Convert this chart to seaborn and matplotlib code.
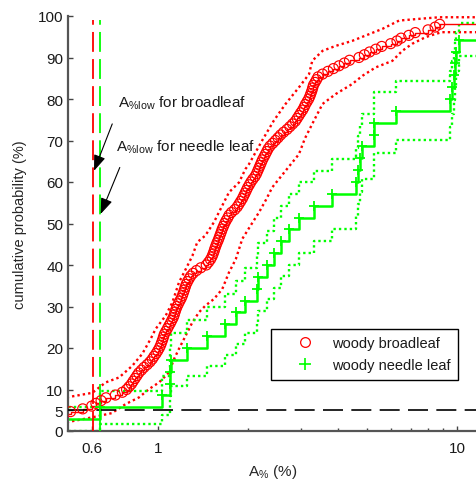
import numpy as np
import matplotlib
matplotlib.use("Agg")
import matplotlib.pyplot as plt
from matplotlib.lines import Line2D
from matplotlib.ticker import NullFormatter
import seaborn as sns

# ---------------- data ----------------
broadleaf = [0.42, 0.44, 0.45, 0.46, 0.47, 0.48,
             0.51, 0.56, 0.60, 0.62, 0.645, 0.67, 0.72, 0.76, 0.785,
             0.80, 0.815, 0.826, 0.838, 0.85, 0.862, 0.88, 0.898, 0.92, 0.94, 0.957,
             0.97, 0.985, 0.998, 1.01, 1.02, 1.028, 1.036, 1.043, 1.05,
             1.062, 1.075, 1.087, 1.10, 1.112, 1.124, 1.133, 1.14, 1.148, 1.158,
             1.17, 1.183, 1.196, 1.207, 1.216, 1.225, 1.233, 1.242, 1.255, 1.27, 1.286,
             1.31, 1.345, 1.39, 1.45, 1.475, 1.498, 1.515, 1.528, 1.54, 1.55, 1.562,
             1.575, 1.59, 1.603, 1.615, 1.628, 1.64, 1.655, 1.67, 1.688, 1.71, 1.728,
             1.76, 1.805, 1.84, 1.865, 1.89, 1.915, 1.935, 1.955, 1.975, 1.995, 2.02,
             2.045, 2.075, 2.11, 2.135, 2.155, 2.175, 2.195, 2.215, 2.235,
             2.26, 2.285, 2.31, 2.335, 2.37, 2.42, 2.47, 2.52, 2.57, 2.63,
             2.70, 2.76, 2.82, 2.88, 2.92, 2.96, 3.0, 3.045, 3.08, 3.11, 3.15, 3.19,
             3.22, 3.245, 3.27, 3.29, 3.31, 3.35, 3.39, 3.43, 3.55, 3.70, 3.86, 4.03,
             4.2, 4.37, 4.7, 4.9, 5.1, 5.35, 5.6, 6.0, 6.3, 6.5, 6.9, 7.25, 8.0,
             8.45, 8.75, 13.0, 14.0, 16.0]

broad_upper_x = [0.495, 0.603, 0.668, 0.741, 0.82, 0.886, 0.945, 0.982, 1.061, 1.117,
                 1.175, 1.238, 1.303, 1.353, 1.44, 1.538, 1.64, 1.727, 1.866, 1.96,
                 2.015, 2.23, 2.44, 2.67, 2.96, 3.2, 3.28, 3.55, 3.93, 4.46, 4.95,
                 5.63, 6.4, 7.43, 8.72, 11.7]
broad_upper_y = [8.1, 9.2, 11.7, 12.9, 15.7, 18.6, 22.2, 24.6, 27.8, 31.0,
                 35.8, 39.0, 42.2, 45.5, 47.1, 50.3, 54.3, 57.5, 59.9, 63.1,
                 64.3, 70.0, 74.8, 78.8, 82.8, 86.0, 89.2, 91.6, 92.8, 94.0, 95.3,
                 96.9, 98.9, 99.3, 99.7, 99.7]
broad_lower_x = [0.495, 0.603, 0.70, 0.78, 0.864, 0.933, 1.008, 1.088, 1.131, 1.175,
                 1.238, 1.303, 1.371, 1.44, 1.538, 1.64, 1.727, 1.82, 1.914, 2.04,
                 2.177, 2.3, 2.41, 2.67, 2.96, 3.1, 3.28, 3.55, 3.93, 4.46, 4.83,
                 5.34, 6.08, 6.56, 7.08, 7.85, 8.5, 8.9, 11.7]
broad_lower_y = [2.1, 3.3, 4.3, 6.5, 8.1, 10.1, 11.7, 14.1, 17.3, 19.8,
                 23.0, 26.2, 28.6, 30.2, 31.8, 34.2, 38.2, 41.4, 46.3, 49.5,
                 52.7, 55.8, 58.7, 62.7, 66.7, 70.5, 74.0, 78.8, 81.2, 83.6, 85.6,
                 87.6, 89.2, 91.6, 93.3, 94.9, 95.7, 96.1, 96.1]

needle = [0.48, 0.638, 1.034, 1.095, 1.10, 1.105, 1.25, 1.46, 1.68, 1.83, 1.96,
          2.14, 2.16, 2.32, 2.44, 2.57, 2.74, 2.96, 3.32, 3.83, 4.58, 4.65, 4.72,
          4.80, 5.26, 5.28, 6.24, 9.46, 9.6, 9.75, 9.85, 9.95, 10.15, 12.5, 14.0]
needle_lower = [0.04, 1.79, 3.84, 6.05, 8.37, 10.77, 13.24, 15.76, 18.33, 20.94,
                23.58, 26.26, 28.98, 31.72, 34.49, 37.29, 40.12, 42.98, 45.87, 48.78,
                51.72, 54.69, 57.69, 60.72, 63.79, 66.90, 70.04, 73.24, 76.49, 79.79,
                83.19, 86.70, 90.37, 94.33, 100.0]
needle_upper = [5.67, 9.64, 13.30, 16.81, 20.20, 23.51, 26.76, 29.96, 33.10, 36.21,
                39.28, 42.31, 45.31, 48.28, 51.22, 54.13, 57.02, 59.88, 62.71, 65.51,
                68.28, 71.03, 73.74, 76.42, 79.07, 81.68, 84.24, 86.76, 89.23, 91.63,
                93.95, 96.16, 98.21, 99.96, 100.0]

low_broad = 0.608      # A%low broadleaf
low_needle = 0.638     # A%low needle leaf
threshold = 5          # 5 % probability level

x_ticks = [0.6, 1, 10]
x_ticklabels = ["0.6", "1", "10"]
x_minor = [2, 3, 4, 5, 6, 7, 8, 9]
y_ticks = [0, 5, 10, 20, 30, 40, 50, 60, 70, 80, 90, 100]

RED = "#ff0000"
GREEN = "#00ff00"

# ---------------- style ----------------
sns.set_style("ticks")
plt.rcParams["font.family"] = ["Liberation Sans", "DejaVu Sans"]
plt.rcParams["mathtext.default"] = "regular"
plt.rcParams["text.color"] = "#1a1a1a"

fig = plt.figure(figsize=(4.76, 4.81), dpi=100)
ax = fig.add_axes([68 / 476, 49 / 481, 409.4 / 476, 415 / 481])
ax.set_xscale("log")

dot = (0, (1, 1.3))

# confidence bounds
sns.lineplot(x=broad_upper_x, y=broad_upper_y, sort=False, estimator=None,
             color=RED, lw=1.7, linestyle=dot, ax=ax)
sns.lineplot(x=broad_lower_x, y=broad_lower_y, sort=False, estimator=None,
             color=RED, lw=1.7, linestyle=dot, ax=ax)
needle_sorted = np.sort(needle)
sns.lineplot(x=needle_sorted, y=needle_lower, sort=False, estimator=None,
             drawstyle="steps-post", color=GREEN, lw=1.7, linestyle=dot, ax=ax)
sns.lineplot(x=needle_sorted, y=needle_upper, sort=False, estimator=None,
             drawstyle="steps-post", color=GREEN, lw=1.7, linestyle=dot, ax=ax)

# empirical CDFs
sns.ecdfplot(x=broadleaf, stat="percent", color=RED, lw=1.0, ax=ax)
sns.ecdfplot(x=needle, stat="percent", color=GREEN, lw=1.8, ax=ax)

bx = np.sort(broadleaf)
bF = 100 * np.arange(1, len(bx) + 1) / len(bx)
sns.scatterplot(x=bx, y=bF, marker="o", s=52, color=RED, facecolors="none",
                edgecolor=RED, linewidth=0.85, ax=ax, zorder=4)
nF = 100 * np.arange(1, len(needle_sorted) + 1) / len(needle_sorted)
sns.scatterplot(x=needle_sorted, y=nF, marker="+", s=60, color=GREEN,
                linewidth=1.3, ax=ax, zorder=4)

# reference lines
ax.axhline(threshold, color="black", lw=1.2, dashes=(12, 5), zorder=3)
ax.vlines(low_broad, 0, 99, color=RED, lw=1.3, linestyles=[(0, (11, 4))], zorder=3)
ax.vlines(low_needle, 0, 99, color=GREEN, lw=1.3, linestyles=[(0, (11, 4))], zorder=3)

# annotations
ax.text(0.735, 78.1, r"A$_{\%low}$ for broadleaf", fontsize=11, va="baseline",
        ha="left", zorder=10)
ax.text(0.724, 67.5, r"A$_{\%low}$ for needle leaf", fontsize=11, va="baseline",
        ha="left", zorder=10)
arrow = dict(arrowstyle="-|>,head_length=0.8,head_width=0.3", color="black",
             lw=0.8, mutation_scale=12, shrinkA=0, shrinkB=0)
ax.annotate("", xy=(0.611, 62.7), xytext=(0.703, 74.0), arrowprops=arrow, zorder=10)
ax.annotate("", xy=(0.643, 52.3), xytext=(0.745, 63.5), arrowprops=arrow, zorder=10)

# axes
ax.set_xlim(0.5, 11.7)
ax.set_ylim(0, 100)
ax.set_xticks(x_ticks)
ax.set_xticklabels(x_ticklabels)
ax.set_xticks(x_minor, minor=True)
ax.xaxis.set_minor_formatter(NullFormatter())
ax.set_yticks(y_ticks)
ax.tick_params(axis="both", which="both", direction="in", colors="#444444",
               labelcolor="#1a1a1a", labelsize=11)
ax.tick_params(axis="both", which="major", length=3.5, width=1)
ax.tick_params(axis="x", which="minor", length=2, width=1)
ax.tick_params(axis="x", which="major", pad=7)
ax.tick_params(axis="y", which="major", pad=3.5)
sns.despine(ax=ax, top=True, right=True)
for s in ("left", "bottom"):
    ax.spines[s].set_color("#555555")
    ax.spines[s].set_linewidth(1.6)

ax.set_xlabel(r"A$_{\%}$ (%)", fontsize=11, labelpad=5)
ax.set_ylabel("cumulative probability (%)", fontsize=10.5, labelpad=8)

handles = [Line2D([], [], marker="o", ls="none", mfc="none", mec=RED, ms=7, mew=0.9),
           Line2D([], [], marker="+", ls="none", color=GREEN, ms=8, mew=1.2)]
leg = ax.legend(handles, ["woody broadleaf", "woody needle leaf"], loc="upper left",
                bbox_to_anchor=(271 / 476, 1 - 330 / 481),
                bbox_transform=fig.transFigure, borderaxespad=0, frameon=True,
                fancybox=False, edgecolor="black", framealpha=1, borderpad=0.5,
                handlelength=3.6, handletextpad=0.1, labelspacing=0.55,
                fontsize=10.5)
leg.get_frame().set_linewidth(1.0)
leg.set_zorder(20)

fig.savefig("out.png", dpi=100)
